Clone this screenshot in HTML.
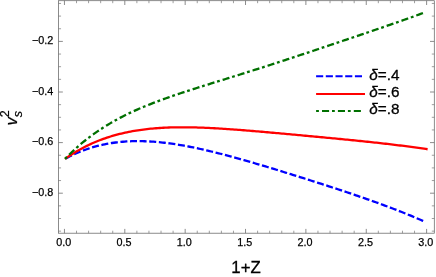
<!DOCTYPE html>
<html><head><meta charset="utf-8"><style>
html,body{margin:0;padding:0;background:#fff;}
svg{display:block;font-family:"Liberation Sans",sans-serif;}
.t{filter:grayscale(100%);}
</style></head><body>
<svg width="436" height="277" viewBox="0 0 436 277">
<rect width="436" height="277" fill="#fff"/>
<g fill="none" stroke-linecap="butt" stroke-linejoin="round">
<path d="M65.00 158.91 L66.81 157.93 L68.61 156.98 L70.42 156.06 L72.23 155.18 L74.04 154.33 L75.84 153.51 L77.65 152.72 L79.46 151.96 L81.26 151.23 L83.07 150.53 L84.88 149.86 L86.68 149.22 L88.49 148.61 L90.30 148.02 L92.11 147.46 L93.91 146.93 L95.72 146.43 L97.53 145.95 L99.33 145.50 L101.14 145.07 L102.95 144.66 L104.75 144.29 L106.56 143.93 L108.37 143.60 L110.18 143.29 L111.98 143.00 L113.79 142.74 L115.60 142.49 L117.40 142.27 L119.21 142.07 L121.02 141.89 L122.83 141.73 L124.63 141.59 L126.44 141.47 L128.25 141.37 L130.05 141.28 L131.86 141.22 L133.67 141.17 L135.47 141.14 L137.28 141.13 L139.09 141.13 L140.90 141.15 L142.70 141.19 L144.51 141.24 L146.32 141.31 L148.12 141.39 L149.93 141.49 L151.74 141.60 L153.54 141.72 L155.35 141.86 L157.16 142.02 L158.97 142.18 L160.77 142.36 L162.58 142.55 L164.39 142.76 L166.19 142.97 L168.00 143.20 L169.81 143.44 L171.62 143.69 L173.42 143.95 L175.23 144.22 L177.04 144.51 L178.84 144.80 L180.65 145.10 L182.46 145.41 L184.26 145.73 L186.07 146.06 L187.88 146.40 L189.69 146.75 L191.49 147.10 L193.30 147.47 L195.11 147.84 L196.91 148.22 L198.72 148.60 L200.53 149.00 L202.33 149.40 L204.14 149.81 L205.95 150.22 L207.76 150.64 L209.56 151.07 L211.37 151.50 L213.18 151.94 L214.98 152.38 L216.79 152.83 L218.60 153.29 L220.41 153.75 L222.21 154.21 L224.02 154.68 L225.83 155.15 L227.63 155.63 L229.44 156.12 L231.25 156.60 L233.05 157.09 L234.86 157.59 L236.67 158.09 L238.48 158.59 L240.28 159.10 L242.09 159.60 L243.90 160.12 L245.70 160.63 L247.51 161.15 L249.32 161.67 L251.12 162.19 L252.93 162.72 L254.74 163.25 L256.55 163.78 L258.35 164.31 L260.16 164.85 L261.97 165.39 L263.77 165.92 L265.58 166.47 L267.39 167.01 L269.19 167.56 L271.00 168.10 L272.81 168.65 L274.62 169.20 L276.42 169.75 L278.23 170.31 L280.04 170.86 L281.84 171.42 L283.65 171.98 L285.46 172.53 L287.27 173.09 L289.07 173.66 L290.88 174.22 L292.69 174.78 L294.49 175.35 L296.30 175.91 L298.11 176.48 L299.91 177.05 L301.72 177.62 L303.53 178.19 L305.34 178.76 L307.14 179.33 L308.95 179.91 L310.76 180.48 L312.56 181.06 L314.37 181.63 L316.18 182.21 L317.98 182.79 L319.79 183.37 L321.60 183.95 L323.41 184.54 L325.21 185.12 L327.02 185.71 L328.83 186.29 L330.63 186.88 L332.44 187.47 L334.25 188.06 L336.06 188.66 L337.86 189.25 L339.67 189.85 L341.48 190.45 L343.28 191.05 L345.09 191.65 L346.90 192.25 L348.70 192.86 L350.51 193.46 L352.32 194.07 L354.13 194.69 L355.93 195.30 L357.74 195.92 L359.55 196.54 L361.35 197.16 L363.16 197.78 L364.97 198.41 L366.77 199.04 L368.58 199.68 L370.39 200.32 L372.20 200.96 L374.00 201.60 L375.81 202.25 L377.62 202.90 L379.42 203.55 L381.23 204.21 L383.04 204.88 L384.85 205.55 L386.65 206.22 L388.46 206.89 L390.27 207.58 L392.07 208.26 L393.88 208.95 L395.69 209.65 L397.49 210.35 L399.30 211.06 L401.11 211.77 L402.92 212.49 L404.72 213.22 L406.53 213.95 L408.34 214.69 L410.14 215.43 L411.95 216.18 L413.76 216.94 L415.56 217.71 L417.37 218.48 L419.18 219.26 L420.99 220.05 L422.79 220.84 L424.60 221.65" stroke="#0000ff" stroke-width="2.3" stroke-dasharray="7.0 2.623" stroke-dashoffset="9.0"/>
<path d="M65.00 158.91 L66.82 157.63 L68.64 156.40 L70.47 155.19 L72.29 154.03 L74.11 152.90 L75.93 151.80 L77.75 150.73 L79.58 149.70 L81.40 148.70 L83.22 147.73 L85.04 146.79 L86.87 145.88 L88.69 145.00 L90.51 144.14 L92.33 143.32 L94.15 142.52 L95.98 141.75 L97.80 141.01 L99.62 140.29 L101.44 139.60 L103.26 138.93 L105.09 138.29 L106.91 137.67 L108.73 137.08 L110.55 136.50 L112.37 135.95 L114.20 135.42 L116.02 134.91 L117.84 134.43 L119.66 133.96 L121.49 133.52 L123.31 133.09 L125.13 132.68 L126.95 132.29 L128.77 131.92 L130.60 131.56 L132.42 131.23 L134.24 130.91 L136.06 130.60 L137.88 130.32 L139.71 130.05 L141.53 129.79 L143.35 129.55 L145.17 129.32 L146.99 129.11 L148.82 128.91 L150.64 128.72 L152.46 128.55 L154.28 128.39 L156.11 128.24 L157.93 128.10 L159.75 127.98 L161.57 127.87 L163.39 127.76 L165.22 127.67 L167.04 127.59 L168.86 127.52 L170.68 127.46 L172.50 127.41 L174.33 127.37 L176.15 127.33 L177.97 127.31 L179.79 127.29 L181.62 127.28 L183.44 127.28 L185.26 127.29 L187.08 127.30 L188.90 127.32 L190.73 127.35 L192.55 127.39 L194.37 127.43 L196.19 127.47 L198.01 127.53 L199.84 127.59 L201.66 127.65 L203.48 127.72 L205.30 127.80 L207.12 127.88 L208.95 127.96 L210.77 128.05 L212.59 128.14 L214.41 128.24 L216.24 128.34 L218.06 128.45 L219.88 128.56 L221.70 128.67 L223.52 128.78 L225.35 128.90 L227.17 129.03 L228.99 129.15 L230.81 129.28 L232.63 129.41 L234.46 129.54 L236.28 129.68 L238.10 129.81 L239.92 129.95 L241.74 130.10 L243.57 130.24 L245.39 130.39 L247.21 130.53 L249.03 130.68 L250.86 130.83 L252.68 130.98 L254.50 131.14 L256.32 131.29 L258.14 131.45 L259.97 131.60 L261.79 131.76 L263.61 131.92 L265.43 132.08 L267.25 132.24 L269.08 132.40 L270.90 132.57 L272.72 132.73 L274.54 132.89 L276.36 133.06 L278.19 133.22 L280.01 133.38 L281.83 133.55 L283.65 133.72 L285.48 133.88 L287.30 134.05 L289.12 134.22 L290.94 134.38 L292.76 134.55 L294.59 134.72 L296.41 134.89 L298.23 135.05 L300.05 135.22 L301.87 135.39 L303.70 135.56 L305.52 135.73 L307.34 135.90 L309.16 136.07 L310.98 136.24 L312.81 136.41 L314.63 136.58 L316.45 136.75 L318.27 136.92 L320.10 137.09 L321.92 137.26 L323.74 137.43 L325.56 137.61 L327.38 137.78 L329.21 137.95 L331.03 138.13 L332.85 138.30 L334.67 138.47 L336.49 138.65 L338.32 138.82 L340.14 139.00 L341.96 139.18 L343.78 139.36 L345.61 139.53 L347.43 139.71 L349.25 139.89 L351.07 140.07 L352.89 140.26 L354.72 140.44 L356.54 140.62 L358.36 140.81 L360.18 140.99 L362.00 141.18 L363.83 141.37 L365.65 141.56 L367.47 141.75 L369.29 141.94 L371.11 142.13 L372.94 142.33 L374.76 142.53 L376.58 142.73 L378.40 142.93 L380.23 143.13 L382.05 143.33 L383.87 143.54 L385.69 143.75 L387.51 143.96 L389.34 144.17 L391.16 144.38 L392.98 144.60 L394.80 144.82 L396.62 145.04 L398.45 145.27 L400.27 145.49 L402.09 145.72 L403.91 145.95 L405.73 146.19 L407.56 146.43 L409.38 146.67 L411.20 146.91 L413.02 147.16 L414.85 147.41 L416.67 147.66 L418.49 147.92 L420.31 148.18 L422.13 148.44 L423.96 148.71 L425.78 148.98 L427.60 149.25" stroke="#ff0000" stroke-width="2.3"/>
<path d="M65.00 158.90 L66.81 157.05 L68.61 155.25 L70.42 153.48 L72.22 151.76 L74.03 150.07 L75.83 148.43 L77.64 146.82 L79.44 145.25 L81.25 143.72 L83.05 142.22 L84.86 140.75 L86.66 139.32 L88.47 137.93 L90.27 136.56 L92.08 135.22 L93.88 133.92 L95.69 132.64 L97.49 131.39 L99.30 130.17 L101.10 128.98 L102.91 127.81 L104.71 126.66 L106.52 125.54 L108.32 124.45 L110.13 123.38 L111.93 122.33 L113.74 121.30 L115.54 120.29 L117.35 119.30 L119.15 118.34 L120.96 117.39 L122.76 116.46 L124.57 115.54 L126.37 114.65 L128.18 113.77 L129.98 112.91 L131.79 112.06 L133.59 111.23 L135.40 110.41 L137.20 109.61 L139.01 108.81 L140.81 108.04 L142.62 107.27 L144.42 106.52 L146.23 105.77 L148.03 105.04 L149.84 104.32 L151.64 103.61 L153.45 102.91 L155.25 102.21 L157.06 101.53 L158.86 100.85 L160.67 100.18 L162.47 99.52 L164.28 98.87 L166.08 98.23 L167.89 97.59 L169.69 96.95 L171.50 96.33 L173.30 95.70 L175.11 95.09 L176.91 94.48 L178.72 93.87 L180.52 93.27 L182.33 92.67 L184.13 92.07 L185.94 91.48 L187.74 90.90 L189.55 90.31 L191.35 89.73 L193.16 89.15 L194.96 88.57 L196.77 88.00 L198.57 87.43 L200.38 86.86 L202.18 86.29 L203.99 85.72 L205.79 85.16 L207.60 84.59 L209.40 84.03 L211.21 83.46 L213.01 82.90 L214.82 82.34 L216.62 81.78 L218.43 81.22 L220.23 80.66 L222.04 80.10 L223.84 79.54 L225.65 78.98 L227.45 78.42 L229.26 77.85 L231.06 77.29 L232.87 76.73 L234.67 76.17 L236.48 75.61 L238.28 75.04 L240.09 74.48 L241.89 73.91 L243.70 73.35 L245.50 72.78 L247.31 72.21 L249.11 71.64 L250.92 71.07 L252.72 70.50 L254.53 69.93 L256.33 69.36 L258.14 68.78 L259.94 68.21 L261.75 67.63 L263.55 67.05 L265.36 66.48 L267.16 65.90 L268.97 65.32 L270.77 64.73 L272.58 64.15 L274.38 63.57 L276.19 62.98 L277.99 62.40 L279.80 61.81 L281.60 61.22 L283.41 60.63 L285.21 60.04 L287.02 59.45 L288.82 58.86 L290.63 58.26 L292.43 57.67 L294.24 57.07 L296.04 56.48 L297.85 55.88 L299.65 55.28 L301.46 54.69 L303.26 54.09 L305.07 53.49 L306.87 52.89 L308.68 52.29 L310.48 51.68 L312.29 51.08 L314.09 50.48 L315.90 49.88 L317.70 49.27 L319.51 48.67 L321.31 48.06 L323.12 47.46 L324.92 46.85 L326.73 46.24 L328.53 45.64 L330.34 45.03 L332.14 44.42 L333.95 43.82 L335.75 43.21 L337.56 42.60 L339.36 41.99 L341.17 41.39 L342.97 40.78 L344.78 40.17 L346.58 39.56 L348.39 38.95 L350.19 38.34 L352.00 37.73 L353.80 37.12 L355.61 36.51 L357.41 35.90 L359.22 35.29 L361.02 34.68 L362.83 34.07 L364.63 33.45 L366.44 32.84 L368.24 32.23 L370.05 31.62 L371.85 31.00 L373.66 30.39 L375.46 29.77 L377.27 29.16 L379.07 28.54 L380.88 27.92 L382.68 27.31 L384.49 26.69 L386.29 26.07 L388.10 25.45 L389.90 24.83 L391.71 24.20 L393.51 23.58 L395.32 22.95 L397.12 22.32 L398.93 21.69 L400.73 21.06 L402.54 20.43 L404.34 19.79 L406.15 19.15 L407.95 18.51 L409.76 17.87 L411.56 17.22 L413.37 16.57 L415.17 15.92 L416.98 15.26 L418.78 14.60 L420.59 13.94 L422.39 13.27 L424.20 12.60" stroke="#007000" stroke-width="2.3" stroke-dasharray="2.8 3.0 7.1 2.8"/>
</g>
<g stroke="#666" stroke-width="0.75" fill="none">
<rect x="58.55" y="0.7" width="375.75" height="232.5"/>
<line x1="64.45" y1="233.20" x2="64.45" y2="228.90"/><line x1="64.45" y1="0.70" x2="64.45" y2="5.00"/><line x1="124.81" y1="233.20" x2="124.81" y2="228.90"/><line x1="124.81" y1="0.70" x2="124.81" y2="5.00"/><line x1="185.17" y1="233.20" x2="185.17" y2="228.90"/><line x1="185.17" y1="0.70" x2="185.17" y2="5.00"/><line x1="245.53" y1="233.20" x2="245.53" y2="228.90"/><line x1="245.53" y1="0.70" x2="245.53" y2="5.00"/><line x1="305.89" y1="233.20" x2="305.89" y2="228.90"/><line x1="305.89" y1="0.70" x2="305.89" y2="5.00"/><line x1="366.25" y1="233.20" x2="366.25" y2="228.90"/><line x1="366.25" y1="0.70" x2="366.25" y2="5.00"/><line x1="426.61" y1="233.20" x2="426.61" y2="228.90"/><line x1="426.61" y1="0.70" x2="426.61" y2="5.00"/><line x1="58.55" y1="41.40" x2="62.85" y2="41.40"/><line x1="434.30" y1="41.40" x2="430.00" y2="41.40"/><line x1="58.55" y1="92.00" x2="62.85" y2="92.00"/><line x1="434.30" y1="92.00" x2="430.00" y2="92.00"/><line x1="58.55" y1="142.60" x2="62.85" y2="142.60"/><line x1="434.30" y1="142.60" x2="430.00" y2="142.60"/><line x1="58.55" y1="193.20" x2="62.85" y2="193.20"/><line x1="434.30" y1="193.20" x2="430.00" y2="193.20"/>
<g stroke-width="0.65" stroke="#6a6a6a"><line x1="76.52" y1="233.20" x2="76.52" y2="230.70"/><line x1="76.52" y1="0.70" x2="76.52" y2="3.20"/><line x1="88.59" y1="233.20" x2="88.59" y2="230.70"/><line x1="88.59" y1="0.70" x2="88.59" y2="3.20"/><line x1="100.67" y1="233.20" x2="100.67" y2="230.70"/><line x1="100.67" y1="0.70" x2="100.67" y2="3.20"/><line x1="112.74" y1="233.20" x2="112.74" y2="230.70"/><line x1="112.74" y1="0.70" x2="112.74" y2="3.20"/><line x1="136.88" y1="233.20" x2="136.88" y2="230.70"/><line x1="136.88" y1="0.70" x2="136.88" y2="3.20"/><line x1="148.95" y1="233.20" x2="148.95" y2="230.70"/><line x1="148.95" y1="0.70" x2="148.95" y2="3.20"/><line x1="161.03" y1="233.20" x2="161.03" y2="230.70"/><line x1="161.03" y1="0.70" x2="161.03" y2="3.20"/><line x1="173.10" y1="233.20" x2="173.10" y2="230.70"/><line x1="173.10" y1="0.70" x2="173.10" y2="3.20"/><line x1="197.24" y1="233.20" x2="197.24" y2="230.70"/><line x1="197.24" y1="0.70" x2="197.24" y2="3.20"/><line x1="209.31" y1="233.20" x2="209.31" y2="230.70"/><line x1="209.31" y1="0.70" x2="209.31" y2="3.20"/><line x1="221.39" y1="233.20" x2="221.39" y2="230.70"/><line x1="221.39" y1="0.70" x2="221.39" y2="3.20"/><line x1="233.46" y1="233.20" x2="233.46" y2="230.70"/><line x1="233.46" y1="0.70" x2="233.46" y2="3.20"/><line x1="257.60" y1="233.20" x2="257.60" y2="230.70"/><line x1="257.60" y1="0.70" x2="257.60" y2="3.20"/><line x1="269.67" y1="233.20" x2="269.67" y2="230.70"/><line x1="269.67" y1="0.70" x2="269.67" y2="3.20"/><line x1="281.75" y1="233.20" x2="281.75" y2="230.70"/><line x1="281.75" y1="0.70" x2="281.75" y2="3.20"/><line x1="293.82" y1="233.20" x2="293.82" y2="230.70"/><line x1="293.82" y1="0.70" x2="293.82" y2="3.20"/><line x1="317.96" y1="233.20" x2="317.96" y2="230.70"/><line x1="317.96" y1="0.70" x2="317.96" y2="3.20"/><line x1="330.03" y1="233.20" x2="330.03" y2="230.70"/><line x1="330.03" y1="0.70" x2="330.03" y2="3.20"/><line x1="342.11" y1="233.20" x2="342.11" y2="230.70"/><line x1="342.11" y1="0.70" x2="342.11" y2="3.20"/><line x1="354.18" y1="233.20" x2="354.18" y2="230.70"/><line x1="354.18" y1="0.70" x2="354.18" y2="3.20"/><line x1="378.32" y1="233.20" x2="378.32" y2="230.70"/><line x1="378.32" y1="0.70" x2="378.32" y2="3.20"/><line x1="390.39" y1="233.20" x2="390.39" y2="230.70"/><line x1="390.39" y1="0.70" x2="390.39" y2="3.20"/><line x1="402.47" y1="233.20" x2="402.47" y2="230.70"/><line x1="402.47" y1="0.70" x2="402.47" y2="3.20"/><line x1="414.54" y1="233.20" x2="414.54" y2="230.70"/><line x1="414.54" y1="0.70" x2="414.54" y2="3.20"/><line x1="58.55" y1="3.45" x2="61.05" y2="3.45"/><line x1="434.30" y1="3.45" x2="431.80" y2="3.45"/><line x1="58.55" y1="16.10" x2="61.05" y2="16.10"/><line x1="434.30" y1="16.10" x2="431.80" y2="16.10"/><line x1="58.55" y1="28.75" x2="61.05" y2="28.75"/><line x1="434.30" y1="28.75" x2="431.80" y2="28.75"/><line x1="58.55" y1="54.05" x2="61.05" y2="54.05"/><line x1="434.30" y1="54.05" x2="431.80" y2="54.05"/><line x1="58.55" y1="66.70" x2="61.05" y2="66.70"/><line x1="434.30" y1="66.70" x2="431.80" y2="66.70"/><line x1="58.55" y1="79.35" x2="61.05" y2="79.35"/><line x1="434.30" y1="79.35" x2="431.80" y2="79.35"/><line x1="58.55" y1="104.65" x2="61.05" y2="104.65"/><line x1="434.30" y1="104.65" x2="431.80" y2="104.65"/><line x1="58.55" y1="117.30" x2="61.05" y2="117.30"/><line x1="434.30" y1="117.30" x2="431.80" y2="117.30"/><line x1="58.55" y1="129.95" x2="61.05" y2="129.95"/><line x1="434.30" y1="129.95" x2="431.80" y2="129.95"/><line x1="58.55" y1="155.25" x2="61.05" y2="155.25"/><line x1="434.30" y1="155.25" x2="431.80" y2="155.25"/><line x1="58.55" y1="167.90" x2="61.05" y2="167.90"/><line x1="434.30" y1="167.90" x2="431.80" y2="167.90"/><line x1="58.55" y1="180.55" x2="61.05" y2="180.55"/><line x1="434.30" y1="180.55" x2="431.80" y2="180.55"/><line x1="58.55" y1="205.85" x2="61.05" y2="205.85"/><line x1="434.30" y1="205.85" x2="431.80" y2="205.85"/><line x1="58.55" y1="218.50" x2="61.05" y2="218.50"/><line x1="434.30" y1="218.50" x2="431.80" y2="218.50"/><line x1="58.55" y1="231.15" x2="61.05" y2="231.15"/><line x1="434.30" y1="231.15" x2="431.80" y2="231.15"/></g>
</g>
<g fill="none">
<line x1="316.1" x2="362.1" y1="76.3" y2="76.3" stroke="#0000ff" stroke-width="2" stroke-dasharray="7.1 2.6"/>
<line x1="316.1" x2="365.0" y1="93.9" y2="93.9" stroke="#ff0000" stroke-width="2"/>
<line x1="316.1" x2="360.9" y1="111.1" y2="111.1" stroke="#007000" stroke-width="2" stroke-dasharray="2.8 3.1 7.1 2.9"/>
</g>
<g class="t" fill="#000" stroke="#000">
<g font-size="10.8" stroke-width="0.25"><text x="63.65" y="246" text-anchor="middle">0.0</text><text x="124.01" y="246" text-anchor="middle">0.5</text><text x="184.37" y="246" text-anchor="middle">1.0</text><text x="244.73" y="246" text-anchor="middle">1.5</text><text x="305.09" y="246" text-anchor="middle">2.0</text><text x="365.45" y="246" text-anchor="middle">2.5</text><text x="425.81" y="246" text-anchor="middle">3.0</text><text x="53.3" y="44.10" text-anchor="end">−0.2</text><text x="53.3" y="94.70" text-anchor="end">−0.4</text><text x="53.3" y="145.30" text-anchor="end">−0.6</text><text x="53.3" y="195.90" text-anchor="end">−0.8</text></g>
<text x="246" y="272.5" font-size="16.8" text-anchor="middle" stroke-width="0.3">1+Z</text>
<g transform="translate(16.8,125.6) rotate(-90)" stroke-width="0.2"><text x="0" y="0" font-size="16.5" font-style="italic">v</text><text x="8.3" y="5.5" font-size="12.6" font-style="italic">s</text><text x="8.3" y="-7.5" font-size="12.6">2</text></g>
<g font-size="15.3" stroke-width="0.3">
<text x="369.3" y="79.7"><tspan font-style="italic">δ</tspan>=.4</text>
<text x="369.3" y="97.3"><tspan font-style="italic">δ</tspan>=.6</text>
<text x="369.3" y="113.8"><tspan font-style="italic">δ</tspan>=.8</text>
</g>
</g>
</svg>
</body></html>
